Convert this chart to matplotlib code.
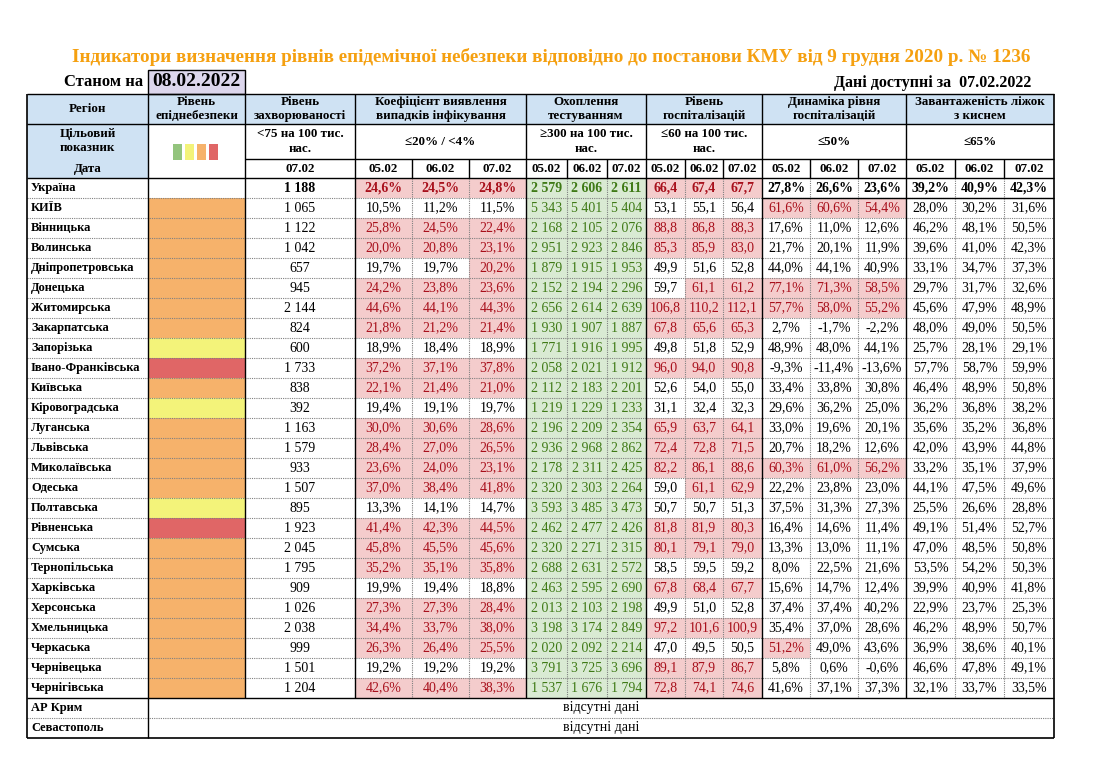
import matplotlib
matplotlib.use("Agg")
import matplotlib.pyplot as plt
from matplotlib.patches import Rectangle

plt.rcParams['font.family'] = ['Liberation Serif', 'DejaVu Serif']

title = "Індикатори визначення рівнів епідемічної небезпеки відповідно до постанови КМУ від 9 грудня 2020 р. № 1236"
report_date = "08.02.2022"
data_date = "07.02.2022"
days = ["05.02", "06.02", "07.02"]

regions = ["Україна", "КИЇВ", "Вінницька", "Волинська", "Дніпропетровська", "Донецька",
           "Житомирська", "Закарпатська", "Запорізька", "Івано-Франківська", "Київська",
           "Кіровоградська", "Луганська", "Львівська", "Миколаївська", "Одеська",
           "Полтавська", "Рівненська", "Сумська", "Тернопільська", "Харківська",
           "Херсонська", "Хмельницька", "Черкаська", "Чернівецька", "Чернігівська"]
no_data_regions = ["АР Крим", "Севастополь"]

# o = orange, y = yellow, r = red
danger = ["", "o", "o", "o", "o", "o", "o", "o", "y", "r", "o", "y", "o", "o", "o", "o",
          "y", "r", "o", "o", "o", "o", "o", "o", "o", "o"]

incidence = [1188, 1065, 1122, 1042, 657, 945, 2144, 824, 600, 1733, 838, 392, 1163, 1579,
             933, 1507, 895, 1923, 2045, 1795, 909, 1026, 2038, 999, 1501, 1204]

coef = [[24.6, 24.5, 24.8], [10.5, 11.2, 11.5], [25.8, 24.5, 22.4], [20.0, 20.8, 23.1],
        [19.7, 19.7, 20.2], [24.2, 23.8, 23.6], [44.6, 44.1, 44.3], [21.8, 21.2, 21.4],
        [18.9, 18.4, 18.9], [37.2, 37.1, 37.8], [22.1, 21.4, 21.0], [19.4, 19.1, 19.7],
        [30.0, 30.6, 28.6], [28.4, 27.0, 26.5], [23.6, 24.0, 23.1], [37.0, 38.4, 41.8],
        [13.3, 14.1, 14.7], [41.4, 42.3, 44.5], [45.8, 45.5, 45.6], [35.2, 35.1, 35.8],
        [19.9, 19.4, 18.8], [27.3, 27.3, 28.4], [34.4, 33.7, 38.0], [26.3, 26.4, 25.5],
        [19.2, 19.2, 19.2], [42.6, 40.4, 38.3]]

testing = [[2579, 2606, 2611], [5343, 5401, 5404], [2168, 2105, 2076], [2951, 2923, 2846],
           [1879, 1915, 1953], [2152, 2194, 2296], [2656, 2614, 2639], [1930, 1907, 1887],
           [1771, 1916, 1995], [2058, 2021, 1912], [2112, 2183, 2201], [1219, 1229, 1233],
           [2196, 2209, 2354], [2936, 2968, 2862], [2178, 2311, 2425], [2320, 2303, 2264],
           [3593, 3485, 3473], [2462, 2477, 2426], [2320, 2271, 2315], [2688, 2631, 2572],
           [2463, 2595, 2690], [2013, 2103, 2198], [3198, 3174, 2849], [2020, 2092, 2214],
           [3791, 3725, 3696], [1537, 1676, 1794]]

hosp = [[66.4, 67.4, 67.7], [53.1, 55.1, 56.4], [88.8, 86.8, 88.3], [85.3, 85.9, 83.0],
        [49.9, 51.6, 52.8], [59.7, 61.1, 61.2], [106.8, 110.2, 112.1], [67.8, 65.6, 65.3],
        [49.8, 51.8, 52.9], [96.0, 94.0, 90.8], [52.6, 54.0, 55.0], [31.1, 32.4, 32.3],
        [65.9, 63.7, 64.1], [72.4, 72.8, 71.5], [82.2, 86.1, 88.6], [59.0, 61.1, 62.9],
        [50.7, 50.7, 51.3], [81.8, 81.9, 80.3], [80.1, 79.1, 79.0], [58.5, 59.5, 59.2],
        [67.8, 68.4, 67.7], [49.9, 51.0, 52.8], [97.2, 101.6, 100.9], [47.0, 49.5, 50.5],
        [89.1, 87.9, 86.7], [72.8, 74.1, 74.6]]

dynamics = [[27.8, 26.6, 23.6], [61.6, 60.6, 54.4], [17.6, 11.0, 12.6], [21.7, 20.1, 11.9],
            [44.0, 44.1, 40.9], [77.1, 71.3, 58.5], [57.7, 58.0, 55.2], [2.7, -1.7, -2.2],
            [48.9, 48.0, 44.1], [-9.3, -11.4, -13.6], [33.4, 33.8, 30.8], [29.6, 36.2, 25.0],
            [33.0, 19.6, 20.1], [20.7, 18.2, 12.6], [60.3, 61.0, 56.2], [22.2, 23.8, 23.0],
            [37.5, 31.3, 27.3], [16.4, 14.6, 11.4], [13.3, 13.0, 11.1], [8.0, 22.5, 21.6],
            [15.6, 14.7, 12.4], [37.4, 37.4, 40.2], [35.4, 37.0, 28.6], [51.2, 49.0, 43.6],
            [5.8, 0.6, -0.6], [41.6, 37.1, 37.3]]

beds = [[39.2, 40.9, 42.3], [28.0, 30.2, 31.6], [46.2, 48.1, 50.5], [39.6, 41.0, 42.3],
        [33.1, 34.7, 37.3], [29.7, 31.7, 32.6], [45.6, 47.9, 48.9], [48.0, 49.0, 50.5],
        [25.7, 28.1, 29.1], [57.7, 58.7, 59.9], [46.4, 48.9, 50.8], [36.2, 36.8, 38.2],
        [35.6, 35.2, 36.8], [42.0, 43.9, 44.8], [33.2, 35.1, 37.9], [44.1, 47.5, 49.6],
        [25.5, 26.6, 28.8], [49.1, 51.4, 52.7], [47.0, 48.5, 50.8], [53.5, 54.2, 50.3],
        [39.9, 40.9, 41.8], [22.9, 23.7, 25.3], [46.2, 48.9, 50.7], [36.9, 38.6, 40.1],
        [46.6, 47.8, 49.1], [32.1, 33.7, 33.5]]

group_titles = ["Коефіцієнт виявлення\nвипадків інфікування", "Охоплення\nтестуванням",
                "Рівень\nгоспіталізацій", "Динаміка рівня\nгоспіталізацій",
                "Завантаженість ліжок\nз киснем"]
group_targets = ["≤20% / <4%", "≥300 на 100 тис.\nнас.", "≤60 на 100 тис.\nнас.", "≤50%", "≤65%"]

# colours
BLUE = '#cfe2f3'
PINK = '#f4cccc'
DARK_RED = '#a8101c'
GREEN_BG = '#d9ead3'
GREEN_TX = '#3f7a16'
ORANGE_T = '#f5a010'
level_colors = {"o": '#f6b26b', "y": '#f3f37a', "r": '#e06666'}
legend_colors = ['#93c47d', '#f3f37a', '#f6b26b', '#e06666']


def fmt_int(v):
    return f"{v:,}".replace(",", " ")


def fmt_pct(v):
    return f"{v:.1f}%".replace(".", ",")


def fmt_dec(v):
    return f"{v:.1f}".replace(".", ",")


# group: values, formatter, "bad" test, always-green
groups = [
    (coef, fmt_pct, lambda v: v >= 20, False),
    (testing, fmt_int, lambda v: False, True),
    (hosp, fmt_dec, lambda v: v > 60, False),
    (dynamics, fmt_pct, lambda v: v > 50, False),
    (beds, fmt_pct, lambda v: v > 65, False),
]

# layout (pixels)
xe = [27, 148, 245, 355, 412, 469, 526, 567, 607, 646, 685, 723, 762, 810, 858, 906, 955, 1004, 1054]
y_top, y_h1, y_h2, y_h3 = 94, 124, 159, 178
row_h = 20.0
n_rows = len(regions)
y_body_end = y_h3 + n_rows * row_h
y_end = y_body_end + len(no_data_regions) * row_h

fig = plt.figure(figsize=(11, 7.79), dpi=100)
ax = fig.add_axes([0, 0, 1, 1])
ax.set_xlim(0, 1100)
ax.set_ylim(779, 0)
ax.axis('off')

FS = 10
NFS = 9.0
HFS = 9.4


def cell(x0, x1, y0, y1, color):
    ax.add_patch(Rectangle((x0, y0), x1 - x0, y1 - y0, facecolor=color, edgecolor='none', zorder=1))


def hline(y, x0, x1, solid=True, lw=1.0):
    if solid:
        ax.plot([x0, x1], [y, y], color='black', lw=lw, zorder=3, solid_capstyle='butt')
    else:
        ax.plot([x0, x1], [y, y], color='#808080', lw=0.8, ls=(0, (1, 1)), zorder=2)


def vline(x, y0, y1, solid=True, lw=1.0):
    if solid:
        ax.plot([x, x], [y0, y1], color='black', lw=lw, zorder=3, solid_capstyle='butt')
    else:
        ax.plot([x, x], [y0, y1], color='#808080', lw=0.8, ls=(0, (1, 1)), zorder=2)


# title and dates
ax.text(551, 57, title, ha='center', va='center', fontsize=13.8, fontweight='bold', color=ORANGE_T)
ax.text(143, 82, "Станом на", ha='right', va='center', fontsize=12, fontweight='bold')
ax.add_patch(Rectangle((xe[1], 70), xe[2] - xe[1], y_top - 70, facecolor='#dcd6ec',
                       edgecolor='black', lw=1.0, zorder=2))
ax.text((xe[1] + xe[2]) / 2, 81.5, report_date, ha='center', va='center', fontsize=14, fontweight='bold')
ax.text(1031, 83, "Дані доступні за  " + data_date, ha='right', va='center', fontsize=11.5,
        fontweight='bold')

# header fills
cell(xe[0], xe[18], y_top, y_h1, BLUE)
cell(xe[0], xe[1], y_h1, y_h3, BLUE)

# header texts
hy1 = (y_top + y_h1) / 2
ax.text((xe[0] + xe[1]) / 2, hy1, "Регіон", ha='center', va='center', fontsize=HFS, fontweight='bold')
ax.text((xe[1] + xe[2]) / 2, hy1, "Рівень\nепіднебезпеки", ha='center', va='center', fontsize=HFS,
        fontweight='bold', linespacing=1.15)
ax.text((xe[2] + xe[3]) / 2, hy1, "Рівень\nзахворюваності", ha='center', va='center', fontsize=HFS,
        fontweight='bold', linespacing=1.15)
for g, (t, tg) in enumerate(zip(group_titles, group_targets)):
    x0, x1 = xe[3 + 3 * g], xe[6 + 3 * g]
    ax.text((x0 + x1) / 2, hy1, t, ha='center', va='center', fontsize=HFS, fontweight='bold',
            linespacing=1.15)
    ax.text((x0 + x1) / 2, (y_h1 + y_h2) / 2, tg, ha='center', va='center', fontsize=HFS,
            fontweight='bold', linespacing=1.25)
    for k in range(3):
        ax.text((xe[3 + 3 * g + k] + xe[4 + 3 * g + k]) / 2, (y_h2 + y_h3) / 2, days[k],
                ha='center', va='center', fontsize=HFS, fontweight='bold')

ax.text((xe[0] + xe[1]) / 2, 141, "Цільовий\nпоказник", ha='center', va='center', fontsize=HFS,
        fontweight='bold', linespacing=1.3)
ax.text((xe[0] + xe[1]) / 2, (y_h2 + y_h3) / 2, "Дата", ha='center', va='center', fontsize=HFS,
        fontweight='bold')
ax.text((xe[2] + xe[3]) / 2, (y_h1 + y_h2) / 2, "<75 на 100 тис.\nнас.", ha='center', va='center',
        fontsize=HFS, fontweight='bold', linespacing=1.25)
ax.text((xe[2] + xe[3]) / 2, (y_h2 + y_h3) / 2, "07.02", ha='center', va='center', fontsize=HFS,
        fontweight='bold')

# legend squares of danger levels
for i, c in enumerate(legend_colors):
    ax.add_patch(Rectangle((173 + i * 12, 144), 8.5, 16, facecolor=c, edgecolor='none', zorder=2))

# body
for r, name in enumerate(regions):
    y0 = y_h3 + r * row_h
    yc = y0 + row_h / 2
    bold = (r == 0)
    ax.text(xe[0] + 4, yc, name, ha='left', va='center', fontsize=NFS, fontweight='bold')
    if danger[r]:
        cell(xe[1], xe[2], y0, y0 + row_h, level_colors[danger[r]])
    ax.text((xe[2] + xe[3]) / 2, yc, fmt_int(incidence[r]), ha='center', va='center', fontsize=FS,
            fontweight='bold' if bold else 'normal')
    for g, (vals, fmt, bad, good) in enumerate(groups):
        for k in range(3):
            v = vals[r][k]
            x0, x1 = xe[3 + 3 * g + k], xe[4 + 3 * g + k]
            color = 'black'
            if good:
                cell(x0, x1, y0, y0 + row_h, GREEN_BG)
                color = GREEN_TX
            elif bad(v):
                cell(x0, x1, y0, y0 + row_h, PINK)
                color = DARK_RED
            ax.text((x0 + x1) / 2, yc, fmt(v), ha='center', va='center', fontsize=FS, color=color,
                    fontweight='bold' if bold else 'normal')

for r, name in enumerate(no_data_regions):
    yc = y_body_end + r * row_h + row_h / 2
    ax.text(xe[0] + 4, yc, name, ha='left', va='center', fontsize=NFS, fontweight='bold')
    ax.text((xe[1] + xe[18]) / 2, yc, "відсутні дані", ha='center', va='center', fontsize=FS)

# grid: dotted body lines
for r in range(1, n_rows + len(no_data_regions)):
    y = y_h3 + r * row_h
    if y != y_body_end:
        hline(y, xe[0], xe[18], solid=False)
for g in range(5):
    for k in (1, 2):
        vline(xe[3 + 3 * g + k], y_h3, y_body_end, solid=False)
        vline(xe[3 + 3 * g + k], y_h2, y_h3)

# grid: solid lines
hline(y_top, xe[0], xe[18])
hline(y_h1, xe[0], xe[18])
hline(y_h2, xe[2], xe[18])
hline(y_h3, xe[0], xe[18])
hline(y_h3 + row_h, xe[12], xe[18])
hline(y_body_end, xe[0], xe[18])
hline(y_end, xe[0], xe[18], lw=1.2)
for i in (3, 6, 9, 12, 15, 2):
    vline(xe[i], y_top, y_body_end)
vline(xe[0], y_top, y_end, lw=1.2)
vline(xe[1], y_top, y_end)
vline(xe[18], y_top, y_end, lw=1.2)

fig.savefig("out.png", dpi=100)
